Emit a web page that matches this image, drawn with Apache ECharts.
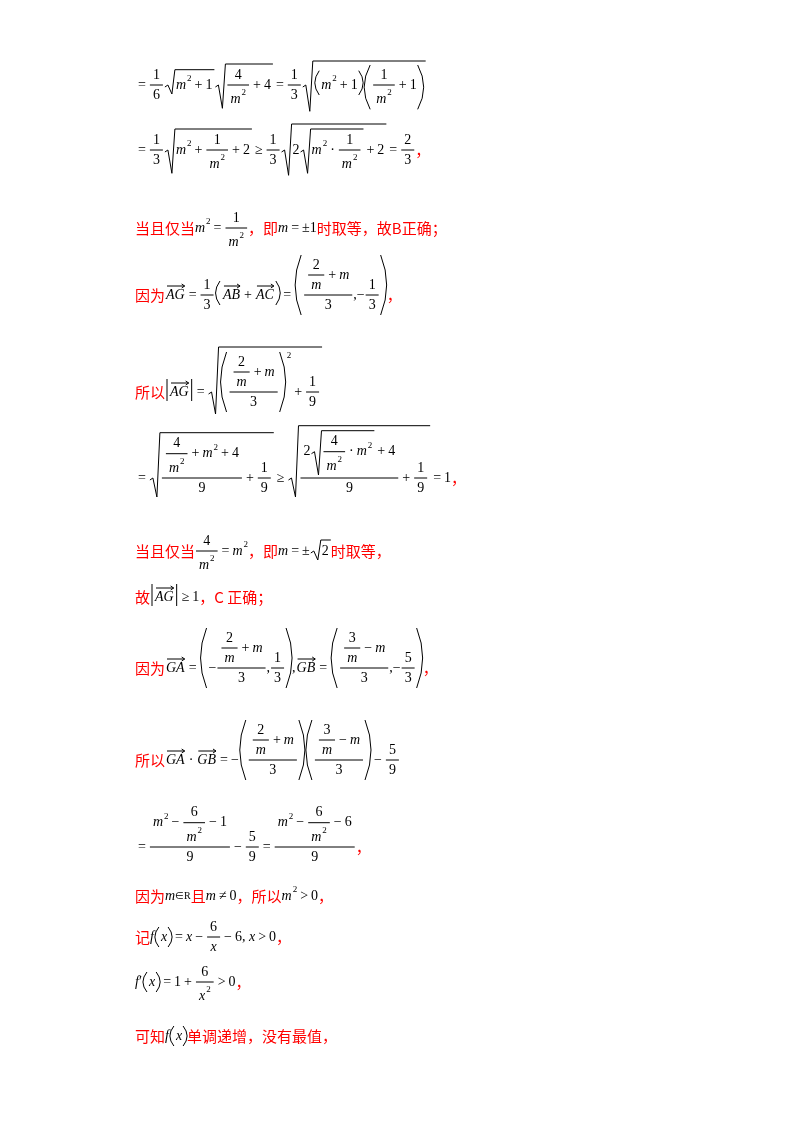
<!DOCTYPE html>
<html><head><meta charset="utf-8">
<script src="https://cdn.jsdelivr.net/npm/echarts@6/dist/echarts.min.js"></script>
<style>html,body{margin:0;background:#fff}#c{width:800px;height:1132px}</style>
</head><body><div id="c"></div>
<script>
const lineAxisY=[85,150,228,295,392,478,551,597,668,760,847,896,937,982,1036];
const leftX=135;
const FS=14;
const ctx=document.createElement('canvas').getContext('2d');
function mw(s,f){ctx.font=f;return ctx.measureText(s).width;}
function T(s,o={}){const size=o.size||FS;const f=o.cjk?size+'px "Noto Sans CJK SC"':(o.it?'italic ':'')+size+'px "Liberation Serif"';
 const w=mw(s,f);return {w,up:size*0.5,down:size*0.5,draw(x,y,out){out.push({type:'text',x,y,style:{text:s,font:f,fill:o.color||'#000',verticalAlign:'middle',align:'left'}});}};}
const I=s=>T(s,{it:true}), C=s=>T(s,{cjk:true,color:'#ff0000',size:15});
function Sp(n){return {w:n,up:0,down:0,draw(){}};}
function Row(...c){let w=0,up=0,down=0;c.forEach(k=>{w+=k.w;up=Math.max(up,k.up);down=Math.max(down,k.down);});
 return {w,up,down,draw(x,y,out){let cx=x;c.forEach(k=>{k.draw(cx,y,out);cx+=k.w;});}};}
const op=s=>Row(Sp(3),T(s),Sp(3));
const L=(x1,y1,x2,y2)=>({type:'line',shape:{x1,y1,x2,y2},style:{stroke:'#000',lineWidth:1}});
function Frac(n,d){const w=Math.max(n.w,d.w)+6;return {w:w+2,up:3+n.down+n.up,down:3+d.up+d.down,draw(x,y,out){
 out.push(L(x+1,y,x+1+w,y));n.draw(x+1+(w-n.w)/2,y-3-n.down,out);d.draw(x+1+(w-d.w)/2,y+3+d.up,out);}};}
function Sqrt(c){const up=c.up+4,down=c.down+2;return {w:c.w+14,up:up+1,down,draw(x,y,out){
 out.push({type:'polyline',shape:{points:[[x+1,y+2],[x+4,y],[x+8,y+down],[x+11,y-up],[x+c.w+14,y-up]]},style:{stroke:'#000',fill:null,lineWidth:1}});
 c.draw(x+12,y,out);}};}
function Paren(c){const up=c.up+3,down=c.down+3;const h=up+down;const bw=Math.min(6,2+h/10);return {w:c.w+2*bw+4,up,down,draw(x,y,out){
 const m=(down-up)/2;
 out.push({type:'bezierCurve',shape:{x1:x+bw+1,y1:y-up,x2:x+bw+1,y2:y+down,cpx1:x-bw+1,cpy1:y+m},style:{stroke:'#000',fill:null,lineWidth:1}});
 const rx=x+bw+2+c.w+2;
 out.push({type:'bezierCurve',shape:{x1:rx,y1:y-up,x2:rx,y2:y+down,cpx1:rx+2*bw,cpy1:y+m},style:{stroke:'#000',fill:null,lineWidth:1}});
 c.draw(x+bw+3,y,out);}};}
function Abs(c){const up=c.up+2,down=c.down+2;return {w:c.w+8,up,down,draw(x,y,out){out.push(L(x+2,y-up,x+2,y+down));out.push(L(x+c.w+6,y-up,x+c.w+6,y+down));c.draw(x+4,y,out);}};}
function Sup(b,s){const t=T(s,{size:9});const r=Math.max(FS*0.45,b.up-4);return {w:b.w+t.w+1,up:Math.max(b.up,r+5),down:b.down,draw(x,y,out){b.draw(x,y,out);t.draw(x+b.w+1,y-r,out);}};}
function Vec(s){const t=I(s);return {w:t.w+2,up:t.up+4,down:t.down,draw(x,y,out){t.draw(x+1,y,out);const ay=y-t.up-2;out.push(L(x+2,ay,x+t.w+1,ay));out.push({type:'polyline',shape:{points:[[x+t.w-2,ay-2],[x+t.w+1,ay],[x+t.w-2,ay+2]]},style:{stroke:'#000',fill:null,lineWidth:1}});}};}
const m2=()=>Sup(I('m'),'2'), x2=()=>Sup(I('x'),'2');
const F=(a,b)=>Frac(T(a),T(b));
const f2m=()=>Row(Frac(T('2'),I('m')),op('+'),I('m'));
const f3m=()=>Row(Frac(T('3'),I('m')),op('−'),I('m'));
const lines=[
 ()=>Row(op('='),F('1','6'),Sqrt(Row(m2(),op('+'),T('1'))),Sqrt(Row(Frac(T('4'),m2()),op('+'),T('4'))),op('='),F('1','3'),Sqrt(Row(Paren(Row(m2(),op('+'),T('1'))),Paren(Row(Frac(T('1'),m2()),op('+'),T('1')))))),
 ()=>Row(op('='),F('1','3'),Sqrt(Row(m2(),op('+'),Frac(T('1'),m2()),op('+'),T('2'))),op('≥'),F('1','3'),Sqrt(Row(T('2'),Sqrt(Row(m2(),op('·'),Frac(T('1'),m2()))),op('+'),T('2'))),op('='),F('2','3'),C('，')),
 ()=>Row(C('当且仅当'),m2(),op('='),Frac(T('1'),m2()),C('，即'),I('m'),op('='),T('±1'),C('时取等，故B正确；')),
 ()=>Row(C('因为'),Vec('AG'),op('='),F('1','3'),Paren(Row(Vec('AB'),op('+'),Vec('AC'))),op('='),Paren(Row(Frac(f2m(),T('3')),T(','),T('−'),F('1','3'))),C('，')),
 ()=>Row(C('所以'),Abs(Vec('AG')),op('='),Sqrt(Row(Sup(Paren(Frac(f2m(),T('3'))),'2'),op('+'),F('1','9')))),
 ()=>Row(op('='),Sqrt(Row(Frac(Row(Frac(T('4'),m2()),op('+'),m2(),op('+'),T('4')),T('9')),op('+'),F('1','9'))),op('≥'),Sqrt(Row(Frac(Row(T('2'),Sqrt(Row(Frac(T('4'),m2()),op('·'),m2())),op('+'),T('4')),T('9')),op('+'),F('1','9'))),op('='),T('1'),C('，')),
 ()=>Row(C('当且仅当'),Frac(T('4'),m2()),op('='),m2(),C('，即'),I('m'),op('='),T('±'),Sqrt(T('2')),C('时取等，')),
 ()=>Row(C('故'),Abs(Vec('AG')),op('≥'),T('1'),C('，C 正确；')),
 ()=>Row(C('因为'),Vec('GA'),op('='),Paren(Row(T('−'),Frac(f2m(),T('3')),T(','),F('1','3'))),T(','),Vec('GB'),op('='),Paren(Row(Frac(f3m(),T('3')),T(','),T('−'),F('5','3'))),C('，')),
 ()=>Row(C('所以'),Vec('GA'),op('·'),Vec('GB'),op('='),T('−'),Paren(Frac(f2m(),T('3'))),Paren(Frac(f3m(),T('3'))),op('−'),F('5','9')),
 ()=>Row(op('='),Frac(Row(m2(),op('−'),Frac(T('6'),m2()),op('−'),T('1')),T('9')),op('−'),F('5','9'),op('='),Frac(Row(m2(),op('−'),Frac(T('6'),m2()),op('−'),T('6')),T('9')),C('，')),
 ()=>Row(C('因为'),I('m'),T('∈R',{size:10}),C('且'),I('m'),op('≠'),T('0'),C('，所以'),m2(),op('>'),T('0'),C('，')),
 ()=>Row(C('记'),I('f'),Paren(I('x')),op('='),I('x'),op('−'),Frac(T('6'),I('x')),op('−'),T('6, '),I('x'),op('>'),T('0'),C('，')),
 ()=>Row(I('f'),T('′'),Paren(I('x')),op('='),T('1'),op('+'),Frac(T('6'),x2()),op('>'),T('0'),C('，')),
 ()=>Row(C('可知'),I('f'),Paren(I('x')),C('单调递增，没有最值，'))
];
const els=[];
lines.forEach((b,i)=>b().draw(leftX,lineAxisY[i],els));
const chart=echarts.init(document.getElementById('c'),null,{renderer:'canvas'});
chart.setOption({backgroundColor:'#fff',animation:false,graphic:{elements:els}});
</script></body></html>
